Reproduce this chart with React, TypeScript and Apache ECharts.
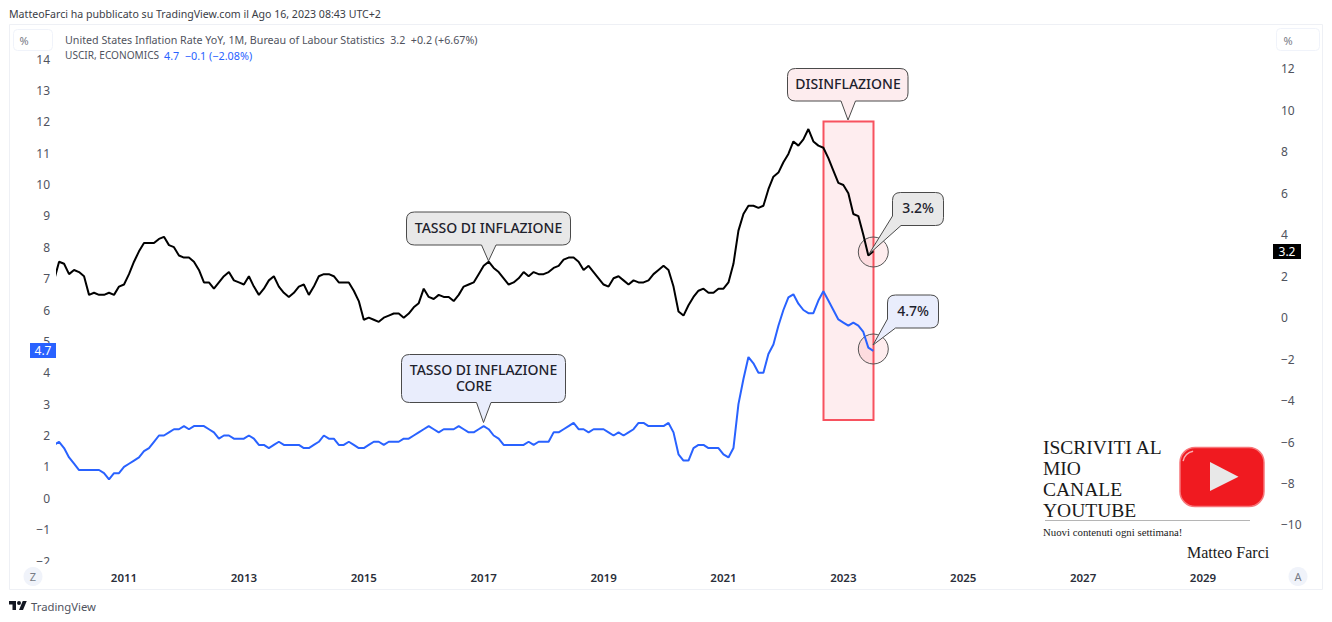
import React, { useEffect, useRef } from "react";
import * as echarts from "echarts";

// Monthly values, first point November 2009
const START_YEAR = 2009;
const FIRST_MONTH_INDEX = 10;

const inflationRate = [
  1.8, 2.7,
  2.6, 2.1, 2.3, 2.2, 2.0, 1.1, 1.2, 1.1, 1.1, 1.2, 1.1, 1.5,
  1.6, 2.1, 2.7, 3.2, 3.6, 3.6, 3.6, 3.8, 3.9, 3.5, 3.4, 3.0,
  2.9, 2.9, 2.7, 2.3, 1.7, 1.7, 1.4, 1.7, 2.0, 2.2, 1.8, 1.7,
  1.6, 2.0, 1.5, 1.1, 1.4, 1.8, 2.0, 1.5, 1.2, 1.0, 1.2, 1.5,
  1.6, 1.1, 1.5, 2.0, 2.1, 2.1, 2.0, 1.7, 1.7, 1.7, 1.3, 0.8,
  -0.1, 0.0, -0.1, -0.2, 0.0, 0.1, 0.2, 0.2, 0.0, 0.2, 0.5, 0.7,
  1.4, 1.0, 0.9, 1.1, 1.0, 1.0, 0.8, 1.1, 1.5, 1.6, 1.7, 2.1,
  2.5, 2.7, 2.4, 2.2, 1.9, 1.6, 1.7, 1.9, 2.2, 2.0, 2.2, 2.1,
  2.1, 2.2, 2.4, 2.5, 2.8, 2.9, 2.9, 2.7, 2.3, 2.5, 2.2, 1.9,
  1.6, 1.5, 1.9, 2.0, 1.8, 1.6, 1.8, 1.7, 1.7, 1.8, 2.1, 2.3,
  2.5, 2.3, 1.5, 0.3, 0.1, 0.6, 1.0, 1.3, 1.4, 1.2, 1.2, 1.4,
  1.4, 1.7, 2.6, 4.2, 5.0, 5.4, 5.4, 5.3, 5.4, 6.2, 6.8, 7.0,
  7.5, 7.9, 8.5, 8.3, 8.6, 9.1, 8.5, 8.3, 8.2, 7.7, 7.1, 6.5,
  6.4, 6.0, 5.0, 4.9, 4.0, 3.0, 3.2,
];

const coreInflationRate = [
  1.7, 1.8,
  1.6, 1.3, 1.1, 0.9, 0.9, 0.9, 0.9, 0.9, 0.8, 0.6, 0.8, 0.8,
  1.0, 1.1, 1.2, 1.3, 1.5, 1.6, 1.8, 2.0, 2.0, 2.1, 2.2, 2.2,
  2.3, 2.2, 2.3, 2.3, 2.3, 2.2, 2.1, 1.9, 2.0, 2.0, 1.9, 1.9,
  1.9, 2.0, 1.9, 1.7, 1.7, 1.6, 1.7, 1.8, 1.7, 1.7, 1.7, 1.7,
  1.6, 1.6, 1.7, 1.8, 2.0, 1.9, 1.9, 1.7, 1.7, 1.8, 1.7, 1.6,
  1.6, 1.7, 1.8, 1.8, 1.7, 1.8, 1.8, 1.8, 1.9, 1.9, 2.0, 2.1,
  2.2, 2.3, 2.2, 2.1, 2.2, 2.2, 2.2, 2.3, 2.2, 2.1, 2.1, 2.2,
  2.3, 2.2, 2.0, 1.9, 1.7, 1.7, 1.7, 1.7, 1.7, 1.8, 1.7, 1.8,
  1.8, 1.8, 2.1, 2.1, 2.2, 2.3, 2.4, 2.2, 2.2, 2.1, 2.2, 2.2,
  2.2, 2.1, 2.0, 2.1, 2.0, 2.1, 2.2, 2.4, 2.4, 2.3, 2.3, 2.3,
  2.3, 2.4, 2.1, 1.4, 1.2, 1.2, 1.6, 1.7, 1.7, 1.6, 1.6, 1.6,
  1.4, 1.3, 1.6, 3.0, 3.8, 4.5, 4.3, 4.0, 4.0, 4.6, 4.9, 5.5,
  6.0, 6.4, 6.5, 6.2, 6.0, 5.9, 5.9, 6.3, 6.6, 6.3, 6.0, 5.7,
  5.6, 5.5, 5.6, 5.5, 5.3, 4.8, 4.7,
];

const yearTicks = [2011, 2013, 2015, 2017, 2019, 2021, 2023, 2025, 2027, 2029];
const rightTicks = [-10, -8, -6, -4, -2, 0, 2, 4, 6, 8, 10, 12];

const publishedText = "MatteoFarci ha pubblicato su TradingView.com il Ago 16, 2023 08:43 UTC+2";
const legendLine1 = "United States Inflation Rate YoY, 1M, Bureau of Labour Statistics  3.2  +0.2 (+6.67%)";
const legendLine2 = "USCIR, ECONOMICS";
const legendLine2Value = "4.7  −0.1 (−2.08%)";
const promoLines = ["ISCRIVITI AL", "MIO", "CANALE", "YOUTUBE"];

const UI_FONT = '"Noto Sans", sans-serif';
const SERIF = '"Liberation Serif", serif';
const TV_BLUE = "#2962ff";

function bottomTailBubble(x0: number, y0: number, x1: number, y1: number, bl: number, br: number, tx: number, ty: number) {
  const r = 8;
  return `M${x0 + r} ${y0}H${x1 - r}Q${x1} ${y0} ${x1} ${y0 + r}V${y1 - r}Q${x1} ${y1} ${x1 - r} ${y1}H${br}L${tx} ${ty}L${bl} ${y1}H${x0 + r}Q${x0} ${y1} ${x0} ${y1 - r}V${y0 + r}Q${x0} ${y0} ${x0 + r} ${y0}Z`;
}

function cornerTailBubble(x0: number, y0: number, x1: number, y1: number, bx: number, ly: number, tx: number, ty: number) {
  const r = 8;
  return `M${x0 + r} ${y0}H${x1 - r}Q${x1} ${y0} ${x1} ${y0 + r}V${y1 - r}Q${x1} ${y1} ${x1 - r} ${y1}H${bx}L${tx} ${ty}L${x0} ${ly}V${y0 + r}Q${x0} ${y0} ${x0 + r} ${y0}Z`;
}

const callouts = [
  { name: "cInfl", d: bottomTailBubble(406.5, 212, 570.5, 245, 481.5, 496, 488.5, 261), fill: "#e8e8e8" },
  { name: "cCore", d: bottomTailBubble(401.5, 354.5, 565.5, 402.5, 476.5, 491, 483.5, 422.5), fill: "#e9edfc" },
  { name: "cDis", d: bottomTailBubble(787.5, 68.5, 908, 101, 841, 855.5, 848, 120), fill: "#fdecee" },
  { name: "c32", d: cornerTailBubble(892.5, 192.5, 943.5, 225.5, 901, 216, 869, 254), fill: "#e8e8e8" },
  { name: "c47", d: cornerTailBubble(887.5, 295, 938.5, 328, 895.5, 319, 873, 345), fill: "#e9edfc" },
];
callouts.forEach((c) => {
  echarts.graphic.registerShape(c.name, echarts.graphic.extendPath(c.d, {}));
});
echarts.graphic.registerShape(
  "tvLogo",
  echarts.graphic.extendPath(
    "M14 22H7V11H0V4h14v18zM28 22h-8l7.5-18h8L28 22zM24 8a4 4 0 1 1-8 0a4 4 0 1 1 8 0z",
    {}
  )
);

function label(
  text: string,
  x: number,
  y: number,
  fill: string,
  font: string,
  align: string = "left",
  z: number = 20
) {
  return {
    type: "text",
    x,
    y,
    z,
    silent: true,
    style: { text, fill, font, align, verticalAlign: "middle", textAlign: align, textVerticalAlign: "middle" },
  };
}

function toPoints(values: number[]) {
  return values.map((v, i) => [FIRST_MONTH_INDEX + i, v]);
}

const withMinus = (v: number) => String(v).replace("-", "−");

export default function App() {
  const ref = useRef<HTMLDivElement>(null);

  useEffect(() => {
    document.body.style.margin = "0";
    const chart = echarts.init(ref.current!, null, { renderer: "svg" });
    const axisColor = "#50535e";
    const calloutFont = `500 14px ${UI_FONT}`;
    chart.setOption({
      animation: false,
      backgroundColor: "#ffffff",
      textStyle: { fontFamily: UI_FONT },
      grid: { left: 57, right: 59, top: 59, bottom: 61, containLabel: false },
      xAxis: {
        type: "value",
        min: 10.586,
        max: 254.01,
        splitLine: { show: false },
        axisLine: { show: false },
        axisTick: { show: false },
        axisLabel: {
          customValues: yearTicks.map((y) => (y - START_YEAR) * 12),
          formatter: (v: number) => String(Math.round(START_YEAR + v / 12)),
          color: "#2a2e39",
          fontWeight: 600,
          fontSize: 11.5,
          margin: 10,
          fontFamily: UI_FONT,
        },
      },
      yAxis: [
        {
          type: "value",
          position: "left",
          min: -2,
          max: 14,
          interval: 1,
          splitLine: { show: false },
          axisLine: { show: false },
          axisTick: { show: false },
          axisLabel: { formatter: withMinus, color: axisColor, fontSize: 12, margin: 7, fontFamily: UI_FONT },
        },
        {
          type: "value",
          position: "right",
          min: -11.74,
          max: 12.48,
          splitLine: { show: false },
          axisLine: { show: false },
          axisTick: { show: false },
          axisLabel: {
            customValues: rightTicks,
            formatter: withMinus,
            color: axisColor,
            fontSize: 12,
            margin: 8,
            fontFamily: UI_FONT,
          },
        },
      ],
      series: [
        {
          name: "United States Inflation Rate YoY",
          type: "line",
          yAxisIndex: 1,
          data: toPoints(inflationRate),
          showSymbol: false,
          symbol: "none",
          z: 3,
          lineStyle: { color: "#000000", width: 2 },
        },
        {
          name: "USCIR",
          type: "line",
          yAxisIndex: 0,
          data: toPoints(coreInflationRate),
          showSymbol: false,
          symbol: "none",
          z: 3,
          lineStyle: { color: TV_BLUE, width: 2 },
        },
      ],
      graphic: {
        elements: [
          // frame and controls
          { type: "rect", z: 0, silent: true, shape: { x: 9.5, y: 24.5, width: 1313, height: 565 }, style: { fill: "none", stroke: "#eef0f5", lineWidth: 1 } },
          { type: "rect", z: 10, silent: true, shape: { x: 13.5, y: 29.5, width: 39, height: 21, r: 4 }, style: { fill: "#fff", stroke: "#f0f3fa", lineWidth: 1 } },
          { type: "rect", z: 10, silent: true, shape: { x: 1276.5, y: 28.5, width: 43, height: 22, r: 4 }, style: { fill: "#fff", stroke: "#f0f3fa", lineWidth: 1 } },
          label("%", 24, 40, "#787b86", `11px ${UI_FONT}`, "center"),
          label("%", 1288, 40, "#787b86", `11px ${UI_FONT}`, "center"),
          label(publishedText, 9, 14, "#3a3d46", `10.6px ${UI_FONT}`),
          label(legendLine1, 65, 39.5, axisColor, `10.7px ${UI_FONT}`),
          label(legendLine2, 65, 55, axisColor, `10.1px ${UI_FONT}`),
          label(legendLine2Value, 164, 55, TV_BLUE, `10.8px ${UI_FONT}`),
          // last value tags
          { type: "rect", z: 10, silent: true, shape: { x: 1273, y: 244, width: 28, height: 15 }, style: { fill: "#000" } },
          label("3.2", 1287, 251.5, "#fff", `12px ${UI_FONT}`, "center"),
          { type: "rect", z: 10, silent: true, shape: { x: 30, y: 343, width: 26, height: 15 }, style: { fill: TV_BLUE } },
          label("4.7", 43, 350.5, "#fff", `12px ${UI_FONT}`, "center"),
          // masks the lower part of the clipped bottom tick
          { type: "rect", z: 9, silent: true, shape: { x: 34, y: 564, width: 20, height: 6 }, style: { fill: "#fff" } },
          { type: "circle", z: 10, silent: true, shape: { cx: 33, cy: 576.5, r: 9.5 }, style: { fill: "#f0f3fa" } },
          label("Z", 33, 576.5, "#787b86", `11px ${UI_FONT}`, "center"),
          { type: "circle", z: 10, silent: true, shape: { cx: 1298, cy: 576.5, r: 9.5 }, style: { fill: "#f0f3fa" } },
          label("A", 1298, 576.5, "#787b86", `11px ${UI_FONT}`, "center"),
          // disinflation band and circles
          { type: "rect", z: 1, silent: true, shape: { x: 823.5, y: 121.5, width: 50, height: 298.5 }, style: { fill: "rgba(247,82,95,0.1)", stroke: "#f7525f", lineWidth: 2 } },
          { type: "circle", z: 1, silent: true, shape: { cx: 873.3, cy: 252, r: 15 }, style: { fill: "rgba(242,54,69,0.09)", stroke: "#555", lineWidth: 1 } },
          { type: "circle", z: 1, silent: true, shape: { cx: 873.3, cy: 349, r: 15 }, style: { fill: "rgba(242,54,69,0.09)", stroke: "#555", lineWidth: 1 } },
          // callouts
          ...callouts.map((c) => ({ type: c.name, x: 0, y: 0, z: 6, silent: true, style: { fill: c.fill, stroke: "#4a4a4a", lineWidth: 1 } })),
          label("TASSO DI INFLAZIONE", 488.5, 227.5, "#1e222d", calloutFont, "center"),
          label("TASSO DI INFLAZIONE", 483.5, 369, "#1e222d", calloutFont, "center"),
          label("CORE", 474, 385.5, "#1e222d", calloutFont, "center"),
          label("DISINFLAZIONE", 848, 83.5, "#1e222d", calloutFont, "center"),
          label("3.2%", 918, 207.5, "#1e222d", calloutFont, "center"),
          label("4.7%", 913, 310.5, "#1e222d", calloutFont, "center"),
          // promo panel
          ...promoLines.map((t, i) => label(t, 1043, 447 + i * 21.2, "#1a1a1a", `19.5px ${SERIF}`)),
          { type: "line", z: 10, silent: true, shape: { x1: 1045, y1: 520.5, x2: 1250, y2: 520.5 }, style: { stroke: "#b5b5b5", lineWidth: 1 } },
          label("Nuovi contenuti ogni settimana!", 1043, 532, "#1a1a1a", `10.8px ${SERIF}`),
          label("Matteo Farci", 1187, 552, "#1a1a1a", `16px ${SERIF}`),
          { type: "rect", z: 10, silent: true, shape: { x: 1180, y: 447.5, width: 84, height: 59, r: 15 }, style: { fill: "#f01a20", stroke: "#f7767a", lineWidth: 1.5 } },
          { type: "arc", z: 11, silent: true, shape: { cx: 1195, cy: 463, r: 12, startAngle: Math.PI * 1.05, endAngle: Math.PI * 1.45 }, style: { stroke: "rgba(255,255,255,0.65)", lineWidth: 1.5, fill: "none" } },
          { type: "polygon", z: 11, silent: true, shape: { points: [[1210, 462], [1238.5, 476.7], [1210, 491]] }, style: { fill: "#e8e8e8" } },
          // footer
          { type: "tvLogo", x: 9, y: 599, scaleX: 0.5, scaleY: 0.5, z: 10, silent: true, style: { fill: "#131722" } },
          label("TradingView", 31, 606, axisColor, `11.3px ${UI_FONT}`),
        ],
      },
    });
    return () => chart.dispose();
  }, []);

  return <div ref={ref} style={{ position: "absolute", left: 0, top: 0, width: 1332, height: 622 }} />;
}
